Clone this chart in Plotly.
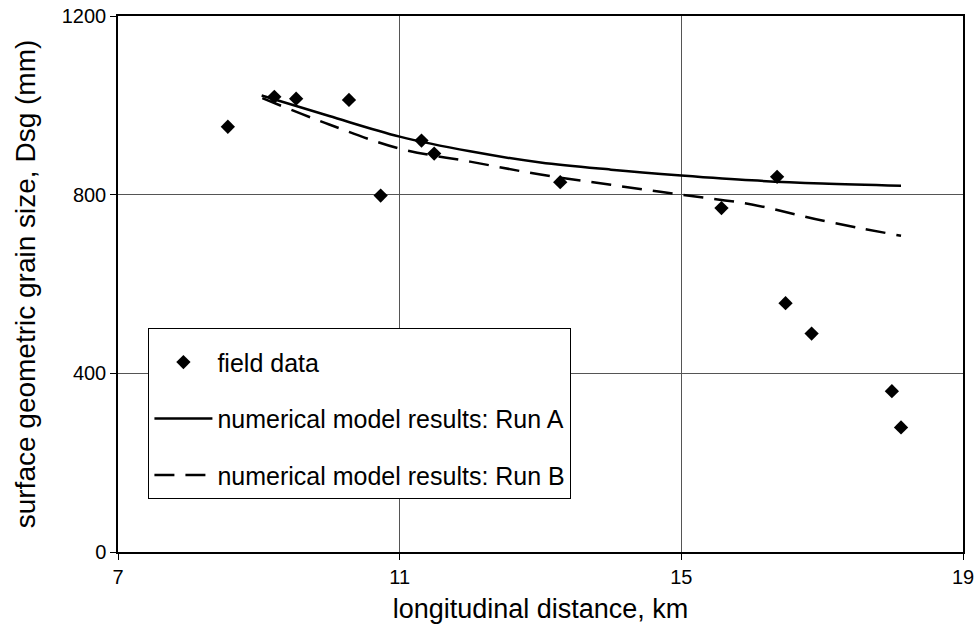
import plotly.graph_objects as go

FONT = "Liberation Sans, Arial, sans-serif"

# field observations
field_x = [8.56, 9.22, 9.53, 10.28, 10.73, 11.31, 11.49, 13.28, 15.57, 16.36, 16.48, 16.85, 17.99, 18.12]
field_y = [952, 1019, 1015, 1012, 798, 921, 892, 828, 770, 840, 557, 489, 360, 279]

# numerical model, Run A
run_a_x = [9.04, 10, 11, 12, 13, 14, 15, 16, 17, 18.12]
run_a_y = [1022, 976, 930, 897, 872, 856, 843, 832, 825, 820]

# numerical model, Run B
run_b_x = [9.05, 10, 11, 12, 13, 14, 15, 16, 17, 18.12]
run_b_y = [1016, 957, 903, 874, 845, 822, 800, 778, 742, 708]

x_ticks = [7, 11, 15, 19]
y_ticks = [0, 400, 800, 1200]

fig = go.Figure()

fig.add_trace(go.Scatter(
    x=field_x, y=field_y, mode="markers", name="field data",
    legendgroup="a",
    marker=dict(symbol="diamond", size=11, color="black"),
))
fig.add_trace(go.Scatter(
    x=run_a_x, y=run_a_y, mode="lines", name="numerical model results: Run A",
    legendgroup="b",
    line=dict(color="black", width=2.5, shape="spline"),
))
fig.add_trace(go.Scatter(
    x=run_b_x, y=run_b_y, mode="lines", name="numerical model results: Run B",
    legendgroup="c",
    line=dict(color="black", width=2.5, dash="20px,11px", shape="spline"),
))

axis_common = dict(
    showline=True, linecolor="black", linewidth=1.5, mirror=True,
    showgrid=True, gridcolor="#555", gridwidth=1,
    ticks="outside", ticklen=6, tickcolor="black",
    zeroline=False, automargin=False,
    tickfont=dict(family=FONT, size=20, color="black"),
)

fig.update_layout(
    width=976, height=632,
    paper_bgcolor="white", plot_bgcolor="white",
    font=dict(family=FONT, color="black"),
    margin=dict(l=118, r=13, t=16, b=80),
    showlegend=True,
    legend=dict(
        x=0.036, y=0.418, xanchor="left", yanchor="top",
        bgcolor="white", bordercolor="black", borderwidth=1,
        font=dict(family=FONT, size=25, color="black"),
        title=dict(text=" ", font=dict(size=8)),
        traceorder="grouped", tracegroupgap=21,
        itemwidth=58,
    ),
    xaxis=dict(
        **axis_common, range=[7, 19], tickvals=x_ticks,
        title=dict(text="longitudinal distance, km", standoff=12,
                   font=dict(family=FONT, size=27, color="black")),
    ),
    yaxis=dict(
        **axis_common, range=[0, 1200], tickvals=y_ticks,
        title=dict(text="surface geometric grain size, Dsg (mm)", standoff=18,
                   font=dict(family=FONT, size=28, color="black")),
    ),
)

# drop the page's default 8px body margin so the figure fills the window
fig.write_html("out.html", config={"displayModeBar": False},
               post_script="document.body.style.margin = '0';")
